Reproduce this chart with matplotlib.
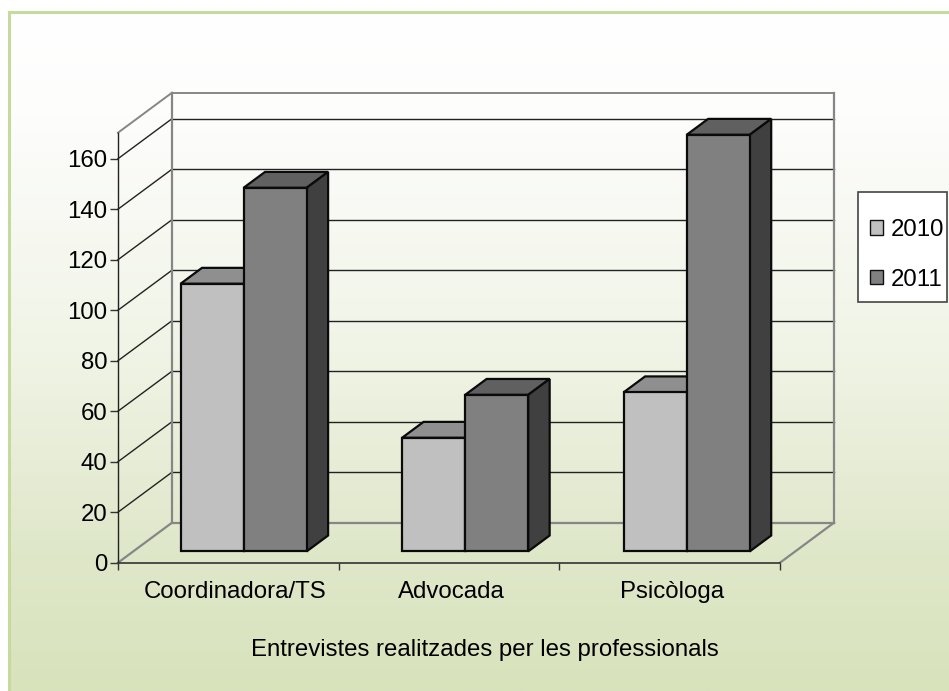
import numpy as np
import matplotlib
matplotlib.use('Agg')
import matplotlib.pyplot as plt
from matplotlib.colors import LinearSegmentedColormap
from matplotlib.patches import Patch, Polygon, Rectangle

categories = ['Coordinadora/TS', 'Advocada', 'Psicòloga']
years = ['2010', '2011']
values_2010 = [106, 45, 63]
values_2011 = [144, 62, 165]
y_ticks = [0, 20, 40, 60, 80, 100, 120, 140, 160]

W, H = 949, 691
plt.rcParams['font.family'] = ['Liberation Sans', 'DejaVu Sans']
FS = 24 * 72 / 100

fig = plt.figure(figsize=(W / 100, H / 100), dpi=100)

# background gradient, green frame only on top and left
bg = fig.add_axes([0, 0, 1, 1], zorder=0)
cmap = LinearSegmentedColormap.from_list('bg', [(0, '#ffffff'), (0.15, '#fdfdfc'), (0.5, '#f0f4e6'),
                                                (0.8, '#dfe7c9'), (1, '#d8e3bc')])
bg.imshow(np.linspace(0, 1, 256).reshape(-1, 1), cmap=cmap, aspect='auto', extent=(9.5, W, H, 12))
bg.plot([9.5, 9.5, W], [H, 12, 12], color='#c6da9e', lw=2.2, solid_joinstyle='miter')
bg.add_patch(Rectangle((857.7, 191.7), 89.3, 110, facecolor='white', edgecolor='#444444', linewidth=1.2, zorder=5))
bg.set_xlim(0, W)
bg.set_ylim(H, 0)
bg.axis('off')

# front plane of the fake 3d box
x0, x1, y_bot, y_top = 118, 780, 562.7, 132.7
ax = fig.add_axes([x0 / W, 1 - y_bot / H, (x1 - x0) / W, (y_bot - y_top) / H], zorder=1)
ymax = 170.3
ax.set_xlim(0, 3)
ax.set_ylim(0, ymax)
ax.patch.set_alpha(0)

px_x = 3 / (x1 - x0)
px_y = ymax / (y_bot - y_top)
depth_x = 54 * px_x
depth_y = 40 * px_y


def proj(x, y, d):
    return x + d * depth_x, y + d * depth_y


def line3d(p, q, color, lw):
    a = proj(*p)
    b = proj(*q)
    ax.plot([a[0], b[0]], [a[1], b[1]], color=color, lw=lw, clip_on=False, zorder=2, solid_capstyle='projecting')


# walls
for y in y_ticks[1:]:
    line3d((0, y, 0), (0, y, 1), '#222222', 1.0)
    line3d((0, y, 1), (3, y, 1), '#222222', 1.0)
wall = '#868686'
line3d((0, 0, 0), (0, 0, 1), wall, 1.6)
line3d((3, 0, 0), (3, 0, 1), wall, 1.6)
line3d((0, ymax, 0), (0, ymax, 1), wall, 1.4)
line3d((0, 0, 1), (3, 0, 1), wall, 1.6)
line3d((0, ymax, 1), (3, ymax, 1), wall, 1.4)
line3d((0, 0, 1), (0, ymax, 1), wall, 1.6)
line3d((3, 0, 1), (3, ymax, 1), wall, 1.6)

# bars
bar_w = 1 / 3.5
d_front, d_back = 0.283, 0.68
colors = [('#c0c0c0', '#8f8f8f', '#606060'), ('#808080', '#606060', '#404040')]


def bar3d(left, value, cols):
    right = left + bar_w
    front = [proj(left, 0, d_front), proj(right, 0, d_front), proj(right, value, d_front), proj(left, value, d_front)]
    top = [proj(left, value, d_front), proj(right, value, d_front), proj(right, value, d_back), proj(left, value, d_back)]
    side = [proj(right, 0, d_front), proj(right, 0, d_back), proj(right, value, d_back), proj(right, value, d_front)]
    for pts, c in zip((top, side, front), (cols[1], cols[2], cols[0])):
        ax.add_patch(Polygon(pts, closed=True, facecolor=c, edgecolor='#0a0a0a', linewidth=1.6,
                             joinstyle='miter', clip_on=False, zorder=3))


for i in range(len(categories)):
    left = i * 1.004 + (1 - 2 * bar_w) / 2
    bar3d(left, values_2010[i], colors[0])
    bar3d(left + bar_w, values_2011[i], colors[1])

# axes
for s in ['top', 'right']:
    ax.spines[s].set_visible(False)
ax.spines['left'].set_color('#222222')
ax.spines['bottom'].set_color('#333333')
ax.spines['left'].set_linewidth(1.0)
ax.spines['bottom'].set_linewidth(1.2)
ax.spines['left'].set_zorder(4)
ax.spines['bottom'].set_zorder(4)
ax.set_yticks(y_ticks)
ax.tick_params(axis='y', length=5.8, width=1.0, color='#333333', labelsize=FS, pad=2)
ax.set_xticks([0, 1, 2, 3])
ax.set_xticklabels([])
ax.tick_params(axis='x', which='major', length=5, width=1.0, color='#333333')
ax.set_xticks([0.53, 1.51, 2.51], minor=True)
ax.set_xticklabels(categories, minor=True)
ax.tick_params(axis='x', which='minor', length=0, labelsize=FS, pad=13)
ax.set_xlabel('Entrevistes realitzades per les professionals', fontsize=FS)
ax.xaxis.set_label_coords((485 - x0) / (x1 - x0), -(639 - y_bot) / (y_bot - y_top))
ax.xaxis.label.set_verticalalignment('top')

# legend, frame is the rectangle drawn on bg
handles = [Patch(facecolor=colors[0][0], edgecolor='#111111', linewidth=1.0),
           Patch(facecolor=colors[1][0], edgecolor='#111111', linewidth=1.0)]
leg = fig.legend(handles, years, loc='upper left', bbox_to_anchor=(870 / W, 1 - 219 / H),
                 bbox_transform=fig.transFigure, fontsize=FS, borderaxespad=0, frameon=False, borderpad=0,
                 handlelength=0.55, handleheight=0.55, handletextpad=0.3, labelspacing=1.15)
leg.set_zorder(6)

plt.savefig('out.png', dpi=100)
